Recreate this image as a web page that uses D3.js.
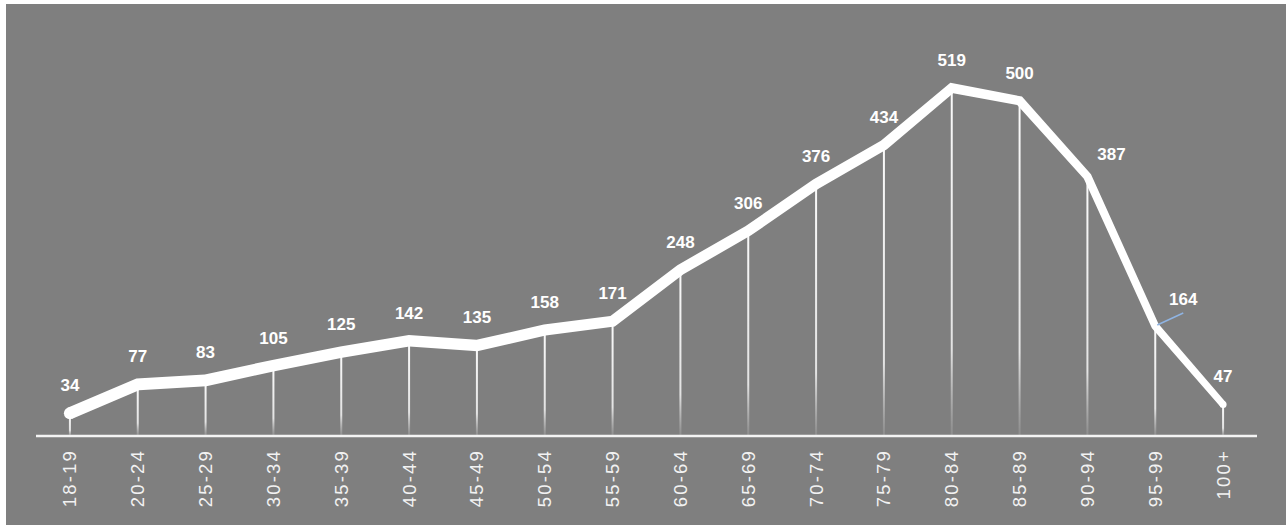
<!DOCTYPE html>
<html>
<head>
<meta charset="utf-8">
<script src="https://cdn.jsdelivr.net/npm/d3@7"></script>
<style>
  html, body { margin: 0; padding: 0; background: #fff; }
  svg { display: block; }
</style>
</head>
<body>
<div id="chart"></div>
<script>
var ageGroups = ['18-19', '20-24', '25-29', '30-34', '35-39', '40-44', '45-49', '50-54', '55-59',
  '60-64', '65-69', '70-74', '75-79', '80-84', '85-89', '90-94', '95-99', '100+']
var counts = [34, 77, 83, 105, 125, 142, 135, 158, 171, 248, 306, 376, 434, 519, 500, 387, 164, 47]

var W = 1286, H = 525
var bg = '#7f7f7f'

var svg = d3.select('#chart').append('svg')
    .attr('width', W)
    .attr('height', H)

svg.append('rect')
    .attr('x', 6).attr('y', 4)
    .attr('width', W - 6).attr('height', H - 4)
    .attr('fill', bg)

var defs = svg.append('defs')
var grad = defs.append('linearGradient')
    .attr('id', 'drop')
    .attr('x1', 0).attr('y1', 0).attr('x2', 0).attr('y2', 1)
grad.append('stop').attr('offset', '0%').attr('stop-color', '#fafafa').attr('stop-opacity', 1)
grad.append('stop').attr('offset', '75%').attr('stop-color', '#eeeeee').attr('stop-opacity', 0.9)
grad.append('stop').attr('offset', '100%').attr('stop-color', '#d8d8d8').attr('stop-opacity', 0.15)

var x = d3.scaleBand()
    .domain(ageGroups)
    .range([36, 1257])

var y = d3.scaleLinear()
    .domain([0, 519])
    .range([436, 88])

var cx = function(d, i) { return x(ageGroups[i]) + x.bandwidth() / 2 }

// drop lines
svg.selectAll('.drop')
    .data(counts)
  .enter().append('rect')
    .attr('class', 'drop')
    .attr('x', function(d, i) { return cx(d, i) - 1 })
    .attr('y', function(d) { return y(d) })
    .attr('width', 2)
    .attr('height', function(d) { return y(0) - y(d) })
    .attr('fill', 'url(#drop)')

// axis line
svg.append('line')
    .attr('x1', 36).attr('x2', 1257)
    .attr('y1', y(0)).attr('y2', y(0))
    .attr('stroke', '#f4f4f4')
    .attr('stroke-width', 2.5)

// tapered line, thick on the left and thinner on the right
var pts = counts.map(function(d, i) { return [cx(d, i), y(d)] })
var widthAt = d3.scaleLinear().domain([0, 12, 17]).range([12, 10.5, 7])

function normal(a, b) {
  var dx = b[0] - a[0], dy = b[1] - a[1], l = Math.sqrt(dx * dx + dy * dy)
  return [-dy / l, dx / l]
}
var left = [], right = []
pts.forEach(function(p, i) {
  var n
  var half = widthAt(i) / 2
  if (i === 0) n = normal(p, pts[1])
  else if (i === pts.length - 1) n = normal(pts[i - 1], p)
  else {
    var n1 = normal(pts[i - 1], p), n2 = normal(p, pts[i + 1])
    var m = [n1[0] + n2[0], n1[1] + n2[1]]
    var ml = Math.sqrt(m[0] * m[0] + m[1] * m[1])
    m = [m[0] / ml, m[1] / ml]
    var k = 1 / (m[0] * n1[0] + m[1] * n1[1])
    n = [m[0] * k, m[1] * k]
  }
  left.push([p[0] + n[0] * half, p[1] + n[1] * half])
  right.push([p[0] - n[0] * half, p[1] - n[1] * half])
})
svg.append('path')
    .attr('d', 'M' + left.concat(right.reverse()).map(function(p) { return p.join(',') }).join('L') + 'Z')
    .attr('fill', '#fff')

svg.append('circle')
    .attr('cx', pts[0][0]).attr('cy', pts[0][1])
    .attr('r', widthAt(0) / 2).attr('fill', '#fff')
svg.append('circle')
    .attr('cx', pts[pts.length - 1][0]).attr('cy', pts[pts.length - 1][1])
    .attr('r', widthAt(17) / 2).attr('fill', '#fff')

// value labels
var labelShift = { '90-94': [24, 5], '95-99': [28, 0] }
svg.selectAll('.val')
    .data(counts)
  .enter().append('text')
    .attr('class', 'val')
    .attr('x', function(d, i) {
      var s = labelShift[ageGroups[i]]
      return cx(d, i) + (s ? s[0] : 0)
    })
    .attr('y', function(d, i) {
      var s = labelShift[ageGroups[i]]
      var base = ageGroups[i] === '95-99' ? y(d) - 21 : y(d) - 22
      return base + (s ? s[1] : 0)
    })
    .text(function(d) { return d })
    .attr('text-anchor', 'middle')
    .attr('font-family', 'Liberation Sans, Arial, sans-serif')
    .attr('font-weight', 'bold')
    .attr('font-size', '17px')
    .attr('fill', '#fff')

// leader line for 164
var i164 = ageGroups.indexOf('95-99')
svg.append('line')
    .attr('x1', cx(0, i164) + 2).attr('y1', y(counts[i164]) - 1)
    .attr('x2', cx(0, i164) + 28).attr('y2', y(counts[i164]) - 13)
    .attr('stroke', '#8fb4e3')
    .attr('stroke-width', 1.5)

// category labels, rotated
svg.selectAll('.cat')
    .data(ageGroups)
  .enter().append('text')
    .attr('class', 'cat')
    .attr('transform', function(d) {
      return 'translate(' + (x(d) + x.bandwidth() / 2) + ',449) rotate(-90)'
    })
    .attr('dy', '0.35em')
    .attr('text-anchor', 'end')
    .text(function(d) { return d })
    .attr('font-family', 'Liberation Sans, Arial, sans-serif')
    .attr('font-size', '18.5px')
    .attr('letter-spacing', '2.2px')
    .attr('fill', '#f2f2f2')
</script>
</body>
</html>
